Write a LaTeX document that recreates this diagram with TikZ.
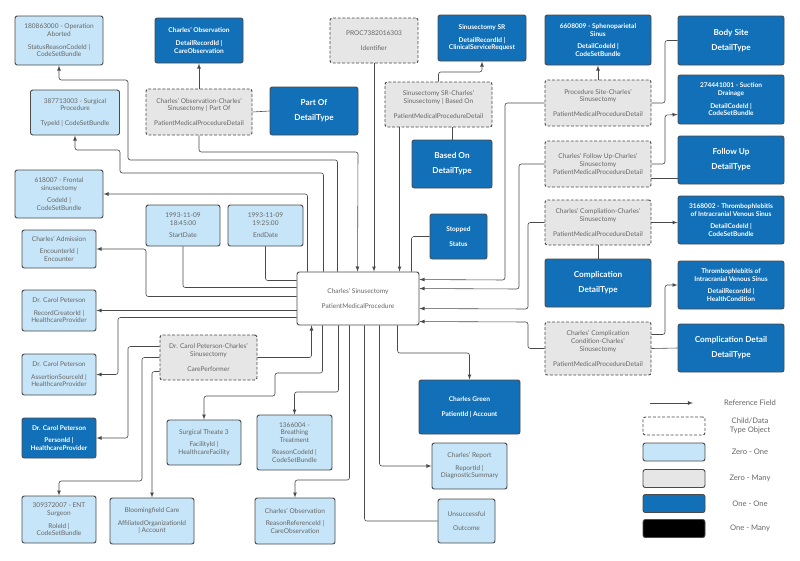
\documentclass[tikz,border=0pt]{standalone}
\usepackage{fontspec}
\setmainfont{Lato}
\usetikzlibrary{calc}
\definecolor{lblue}{HTML}{C6E5F8}
\definecolor{dblue}{HTML}{1170B8}
\definecolor{lgray}{HTML}{E6E6E6}
\definecolor{edge}{HTML}{4A4A4A}
\definecolor{txt}{HTML}{666666}
\tikzset{
  base/.style={draw=edge, line width=0.8pt, rounded corners=2pt, align=center, inner sep=1pt,
    font=\fontsize{5.6}{6.6}\selectfont},
  light/.style={base, fill=lblue, text=txt},
  dark/.style={base, fill=dblue, text=white, font=\fontsize{5.6}{6.6}\selectfont\bfseries},
  detail/.style={base, fill=lgray, text=txt, dashed, dash pattern=on 2.5pt off 1.5pt},
  plain/.style={base, fill=white, text=txt},
  ref/.style={draw=edge, line width=0.5pt, rounded corners=2pt, -latex},
  link/.style={draw=edge, line width=0.5pt, rounded corners=2pt},
}
% box: style, name, centre, width, height, text
\newcommand\bx[6]{\node[#1, minimum width=#4*0.3mm, minimum height=#5*0.3mm] (#2) at (#3) {#6};}
\begin{document}
\begin{tikzpicture}[x=0.3mm, y=-0.3mm]
  \useasboundingbox (0,0) rectangle (800,560);

  % top rows
  \bx{light}{abort}{59,40.5}{88}{49}{180863000 - Operation\\Aborted\\[4pt]StatusReasonCodeId |\\CodeSetBundle}
  \bx{dark}{obsrec}{199,40.5}{88}{45}{Charles' Observation\\[4pt]DetailRecordId |\\CareObservation}
  \bx{detail}{ident}{374,40.5}{88}{45}{PROC7382016303\\[6pt]Identifier}
  \bx{dark}{sr}{482,38}{88}{46}{Sinusectomy SR\\[4pt]DetailRecordId |\\ClinicalServiceRequest}
  \bx{dark}{sphen}{598,40}{106}{50}{6608009 - Sphenoparietal\\Sinus\\[4pt]DetailCodeId |\\CodeSetBundle}
  \bx{dark}{bodysite}{731,40.5}{106}{49}{\fontsize{7}{8}\selectfont Body Site\\[6pt]\fontsize{7}{8}\selectfont DetailType}
  \bx{light}{surgproc}{75,112.5}{89}{45}{387713003 - Surgical\\Procedure\\[6pt]TypeId | CodeSetBundle}
  \bx{detail}{partofd}{199,112}{106}{46}{Charles' Observation-Charles'\\Sinusectomy | Part Of\\[6pt]PatientMedicalProcedureDetail}
  \bx{dark}{partof}{314,111}{88}{48}{\fontsize{7}{8}\selectfont Part Of\\[6pt]\fontsize{7}{8}\selectfont DetailType}
  \bx{detail}{basedond}{438.5,104.5}{107}{45}{Sinusectomy SR-Charles'\\Sinusectomy | Based On\\[6pt]PatientMedicalProcedureDetail}
  \bx{detail}{sited}{598,103}{106}{46}{Procedure Site-Charles'\\Sinusectomy\\[6pt]PatientMedicalProcedureDetail}
  \bx{dark}{suction}{731,99.5}{106}{49}{274441001 - Suction\\Drainage\\[4pt]DetailCodeId |\\CodeSetBundle}
  \bx{dark}{basedon}{452,164}{80}{48}{\fontsize{7}{8}\selectfont Based On\\[6pt]\fontsize{7}{8}\selectfont DetailType}
  \bx{detail}{followd}{598,164}{106}{46}{Charles' Follow Up-Charles'\\Sinusectomy\\PatientMedicalProcedureDetail}
  \bx{dark}{follow}{731,160}{106}{48}{\fontsize{7}{8}\selectfont Follow Up\\[6pt]\fontsize{7}{8}\selectfont DetailType}
  \bx{light}{frontal}{59,194}{88}{48}{618007 - Frontal\\sinusectomy\\[4pt]CodeId |\\CodeSetBundle}
  \bx{light}{start}{183,225.5}{74}{41}{1993-11-09\\18:45:00\\[4pt]StartDate}
  \bx{light}{finish}{265.5,225.5}{75}{41}{1993-11-09\\19:25:00\\[4pt]EndDate}
  \bx{dark}{stopped}{458.5,236.5}{57}{45}{Stopped\\[6pt]Status}
  \bx{detail}{complid}{598,222.5}{106}{45}{Charles' Compliation-Charles'\\Sinusectomy\\[6pt]PatientMedicalProcedureDetail}
  \bx{dark}{thrcode}{731,220}{106}{48}{3168002 - Thrombophlebitis\\of Intracranial Venous Sinus\\[4pt]DetailCodeId |\\CodeSetBundle}
  \bx{light}{admission}{59,249}{74}{38}{Charles' Admission\\[4pt]EncounterId |\\Encounter}
  \bx{dark}{compl}{598,283}{106}{48}{\fontsize{7}{8}\selectfont Complication\\[6pt]\fontsize{7}{8}\selectfont DetailType}
  \bx{dark}{thrrec}{731,285}{106}{48}{Thrombophlebitis of\\Intracranial Venous Sinus\\[4pt]DetailRecordId |\\HealthCondition}

  % centre
  \bx{plain}{cen}{358,298.5}{122}{53}{Charles' Sinusectomy\\[6pt]PatientMedicalProcedure}

  % lower rows
  \bx{light}{creator}{59,310.5}{74}{41}{Dr. Carol Peterson\\[4pt]RecordCreatorId |\\HealthcareProvider}
  \bx{detail}{condd}{598,348.5}{106}{53}{Charles' Complication\\Condition-Charles'\\Sinusectomy\\[6pt]PatientMedicalProcedureDetail}
  \bx{dark}{compdet}{731,348}{106}{48}{\fontsize{7}{8}\selectfont Complication Detail\\[6pt]\fontsize{7}{8}\selectfont DetailType}
  \bx{detail}{performer}{208.5,357.5}{97}{45}{Dr. Carol Peterson-Charles'\\Sinusectomy\\[6pt]CarePerformer}
  \bx{light}{assertion}{59,374.5}{74}{41}{Dr. Carol Peterson\\[4pt]AssertionSourceId |\\HealthcareProvider}
  \bx{dark}{patient}{469.5,407}{101}{54}{Charles Green\\[6pt]PatientId | Account}
  \bx{light}{theatre}{204,442.5}{74}{45}{Surgical Theate 3\\[4pt]FacilityId |\\HealthcareFacility}
  \bx{light}{breath}{294.5,442.5}{75}{55}{1366004 -\\Breathing\\Treatment\\[4pt]ReasonCodeId |\\CodeSetBundle}
  \bx{dark}{person}{59,438}{74}{40}{Dr. Carol Peterson\\[4pt]PersonId |\\HealthcareProvider}
  \bx{light}{report}{469.5,466}{75}{46}{Charles' Report\\[4pt]ReportId |\\DiagnosticSummary}
  \bx{light}{ent}{59,519.5}{74}{47}{309372007 - ENT\\Surgeon\\[4pt]RoleId |\\CodeSetBundle}
  \bx{light}{bloom}{152,521}{84}{46}{Bloomingfield Care\\[4pt]AffiliatedOrganizationId\\| Account}
  \bx{light}{obsreason}{295,521}{80}{46}{Charles' Observation\\[4pt]ReasonReferenceId |\\CareObservation}
  \bx{light}{outcome}{466.5,521}{57}{44}{Unsuccessful\\[6pt]Outcome}

  % from the procedure, top side
  \draw[ref] ($(cen.north west)+(41,0)$) |- (128,160) |- (59,80) -- (abort.south);
  \draw[ref] ($(cen.north west)+(27,0)$) |- (120,173) |- (75,150) -- (surgproc.south);
  \draw[ref] ($(cen.north west)+(11,0)$) |- (frontal.east);
  \draw[ref] (partofd.south) |- (358,152) -- ($(cen.north west)+(61,0)$);
  \draw[ref] (ident.south) -- (ident.south |- cen.north);
  \draw[ref] ($(basedond.south west)+(15,0)$) -- ($(cen.north west)+(103,0)$);
  \draw[link] (stopped.west) -| ($(cen.north west)+(115,0)$);

  % left side
  \draw[link] (finish.south) |- ($(cen.north west)+(0,9)$);
  \draw[link] (start.south) |- ($(cen.north west)+(0,16)$);
  \draw[ref] ($(cen.north west)+(0,25)$) -| (146,249) -- (admission.east);
  \draw[ref] (cen.west |- creator.east) -- (creator.east);
  \draw[ref] ($(cen.north west)+(0,46)$) -| (118,374.5) -- (assertion.east);

  % care performer
  \draw[ref] (performer.east) -| ($(cen.south west)+(15,0)$);
  \draw[ref] ($(performer.north west)+(0,12)$) -| (128,438) -- (person.east);
  \draw[ref] ($(performer.north west)+(0,23)$) -| (142,481) -| (ent.north);
  \draw[ref] ($(performer.north west)+(0,37)$) -| (bloom.north);

  % bottom side
  \draw[ref] ($(cen.south west)+(26,0)$) |- (275,373) |- (204,396) -- (theatre.north);
  \draw[ref] ($(cen.south west)+(42,0)$) |- (294.5,392) -- (breath.north);
  \draw[ref] ($(cen.south west)+(53,0)$) |- (295,480) -- (obsreason.north);
  \draw[link] ($(cen.south west)+(68,0)$) |- (outcome.west);
  \draw[ref] ($(cen.south west)+(83,0)$) |- (report.west);
  \draw[ref] ($(cen.south west)+(101,0)$) |- (469.5,353) -- (patient.north);

  % right side
  \draw[ref] (sited.west) -| (505,280) -- ($(cen.north east)+(0,8)$);
  \draw[ref] (followd.west) -| (519,289) -- ($(cen.north east)+(0,17)$);
  \draw[ref] (complid.west) -| (528,309) -- ($(cen.north east)+(0,37)$);
  \draw[ref] (condd.west) -| (528,322) -- ($(cen.north east)+(0,50)$);

  % detail objects
  \draw[ref] (partofd.north) -- (obsrec.south);
  \draw[link] (partofd.east) -- (partof.west);
  \draw[ref] (basedond.north) |- (482,72) -- (sr.south);
  \draw[link] (basedond.south -| basedon.north) -- (basedon.north);
  \draw[ref] (sited.north) -- (sphen.south);
  \draw[link] (sited.east) -| (665,40.5) -- (bodysite.west);
  \draw[ref] (followd.east) -| (665,115) -- ($(suction.west)+(0,15)$);
  \draw[link] ($(followd.east)+(0,14)$) -- (follow.west |- 0,178);
  \draw[ref] (complid.east) -- (thrcode.west |- complid.east);
  \draw[link] (complid.south) -- (compl.north);
  \draw[ref] ($(condd.east)+(0,-14)$) -| (665,285) -- (thrrec.west);
  \draw[link] (condd.east) -- (compdet.west);

  % legend
  \coordinate (legA) at (650,403);
  \coordinate (legB) at (693,403);
  \draw[ref] (legA) -- (legB);
  \node[text=txt, font=\fontsize{6.5}{7.5}\selectfont] (legref) at (750,403) {Reference Field};
  \node[detail, minimum width=62*0.3mm, minimum height=18*0.3mm, fill=white] (legdet) at (674,426) {};
  \node[text=txt, align=center, font=\fontsize{6.5}{8}\selectfont] at (750,426) {Child/Data\\Type Object};
  \node[light, minimum width=62*0.3mm, minimum height=18*0.3mm] (leglight) at (674,452) {};
  \node[text=txt, font=\fontsize{6.5}{7.5}\selectfont] at (750,452) {Zero - One};
  \node[base, fill=lgray, minimum width=62*0.3mm, minimum height=18*0.3mm] (leggray) at (674,478.5) {};
  \node[text=txt, font=\fontsize{6.5}{7.5}\selectfont] at (750,478.5) {Zero - Many};
  \node[dark, minimum width=62*0.3mm, minimum height=18*0.3mm] (legdark) at (674,503.5) {};
  \node[text=txt, font=\fontsize{6.5}{7.5}\selectfont] at (750,503.5) {One - One};
  \node[base, fill=black, minimum width=62*0.3mm, minimum height=18*0.3mm] (legblack) at (674,528.5) {};
  \node[text=txt, font=\fontsize{6.5}{7.5}\selectfont] at (750,528.5) {One - Many};
\end{tikzpicture}
\end{document}
